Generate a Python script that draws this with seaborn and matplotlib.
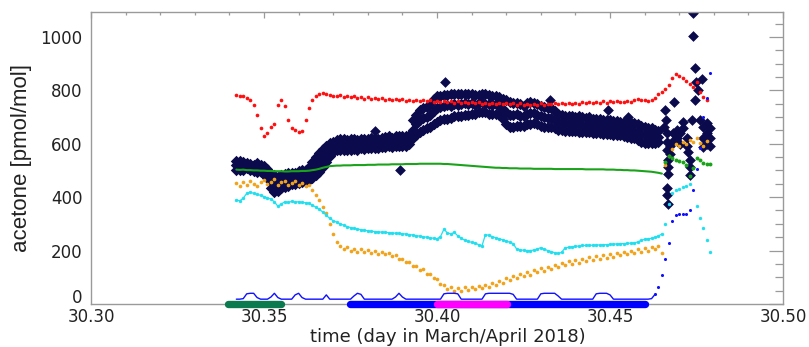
import numpy as np
import pandas as pd
import matplotlib
matplotlib.use("Agg")
import matplotlib.pyplot as plt
import matplotlib.transforms as mtransforms
import seaborn as sns
from matplotlib.ticker import MultipleLocator, FormatStrFormatter

sns.set_theme(style="white")
plt.rcParams["font.family"] = ["DejaVu Sans"]

nan = np.nan

# sampling times in day of the year, one sample every 0.001 d (30.342 ... 30.479)
t = np.round(np.arange(30.342, 30.4795, 0.001), 3)

red_vals = [
    782, 778, 780, 772, 762, 745, 708, 660, 628, 640,
    662, 672, 745, 765, 742, 690, 660, 650, 645, 648,
    690, 735, 762, 778, 785, 788, 786, 782, 780, 778,
    781, 775, 779, 773, 777, 771, 775, 769, 773, 768,
    772, 766, 770, 765, 769, 763, 768, 762, 766, 761,
    765, 760, 764, 759, 763, 758, 762, 757, 761, 756,
    760, 755, 759, 754, 758, 753, 757, 752, 756, 751,
    755, 750, 754, 749, 753, 748, 752, 747, 751, 747,
    752, 746, 751, 746, 750, 745, 750, 746, 751, 746,
    750, 747, 752, 747, 752, 748, 753, 749, 754, 750,
    755, 751, 756, 752, 757, 753, 758, 754, 759, 755,
    760, 755, 757, 758, 756, 762, 767, 765, 763, 760,
    762, 770, 785, 795, 805, 820, 845, 860, 852, 845,
    835, 822, 812, 830, 795, 775, 765, nan,
]

green_vals = [
    503, 502, 503, 501, 501, 500, 500, 499, 499, 498,
    498, 497, 497, 497, 496, 496, 497, 497, 497, 498,
    498, 499, 501, 503, 506, 510, 513, 516, 517, 518,
    518, 519, 519, 519, 520, 520, 520, 520, 521, 521,
    521, 522, 522, 522, 522, 523, 523, 523, 523, 524,
    524, 524, 524, 525, 525, 525, 525, 525, 525, 525,
    524, 524, 523, 522, 521, 520, 519, 518, 517, 516,
    515, 514, 513, 512, 511, 510, 510, 509, 509, 508,
    508, 508, 507, 507, 507, 507, 506, 506, 506, 506,
    506, 506, 505, 505, 505, 505, 505, 505, 505, 505,
    505, 504, 504, 504, 504, 504, 504, 503, 503, 503,
    502, 502, 501, 501, 500, 500, 499, 498, 497, 496,
    495, 493, 491, 488, 530, 555, 545, 540, 535, 530,
    522, 478, 510, 548, 540, 528, 525, 524,
]

cyan_vals = [
    390, 386, 396, 414, 419, 414, 410, 407, 402, 397,
    393, 382, 366, 374, 383, 380, 384, 381, 383, 380,
    379, 377, 370, 362, 354, 344, 332, 320, 312, 306,
    300, 295, 290, 286, 283, 281, 278, 276, 274, 272,
    271, 270, 269, 268, 267, 266, 265, 264, 263, 262,
    260, 258, 256, 254, 252, 250, 248, 246, 244, 252,
    280, 266, 262, 268, 255, 246, 239, 234, 231, 228,
    222, 218, 260, 257, 252, 248, 244, 240, 236, 231,
    226, 206, 203, 201, 200, 200, 202, 206, 211, 205,
    200, 196, 192, 189, 193, 210, 212, 214, 216, 217,
    219, 219, 220, 220, 221, 221, 222, 222, 223, 224,
    225, 226, 226, 227, 228, 229, 232, 238, 242, 244,
    246, 250, 255, 262, 300, 375, 415, 428, 432, 437,
    442, 448, nan, 365, 320, 285, 240, 195,
]

orange_vals = [
    452, 440, 458, 446, 462, 450, 441, 457, 464, 448,
    455, 466, 445, 458, 461, 447, 453, 459, 446, 452,
    440, 444, 426, 408, 388, 362, 342, 300, 262, 232,
    218, 206, 212, 198, 207, 196, 205, 194, 203, 192,
    199, 188, 196, 186, 192, 181, 182, 168, 170, 156,
    158, 141, 142, 127, 130, 112, 114, 96, 94, 74,
    70, 56, 62, 50, 60, 48, 62, 52, 64, 55,
    66, 58, 70, 62, 78, 70, 86, 80, 97, 90,
    106, 98, 112, 104, 118, 110, 126, 118, 134, 125,
    140, 132, 147, 139, 153, 145, 160, 150, 164, 155,
    170, 160, 174, 164, 178, 168, 183, 172, 188, 177,
    192, 182, 196, 186, 200, 190, 205, 196, 210, 200,
    214, 204, 218, 190, 520, 555, 580, 598, 592, 606,
    598, 615, 608, 622, 604, 592, 610, nan,
]

blue_vals = [
    18, 18, 20, 38, 40, 40, 24, 18, 18, 18,
    26, 40, 24, 18, 18, 18, 18, 34, 40, 24,
    18, 18, 18, 18, 18, 18, 34, 18, 18, 18,
    18, 18, 18, 18, 30, 40, 36, 18, 18, 18,
    18, 18, 18, 18, 18, 18, 26, 40, 26, 18,
    18, 18, 18, 18, 18, 18, 18, 18, 18, 18,
    38, 40, 40, 40, 38, 18, 18, 18, 18, 18,
    18, 18, 38, 40, 40, 40, 40, 40, 40, 40,
    36, 18, 18, 18, 18, 18, 18, 18, 38, 40,
    40, 40, 40, 30, 18, 18, 18, 18, 18, 18,
    18, 18, 18, 18, 38, 40, 40, 40, 34, 18,
    18, 18, 18, 18, 18, 18, 18, 18, 18, 18,
    20, 36, 62, 110, 170, 228, 310, 334, 338, 336,
    336, 352, 425, 505, 585, 700, 770, 865,
]

# main acetone record: upper, middle and lower samples per time step (30.342 ... 30.464)
navy_hi = [
    537, 535, 532, 527, 525, 522, 527, 522, 517, 507,
    487, 482, 477, 482, 487, 492, 492, 492, 497, 502,
    502, 512, 532, 552, 567, 582, 592, 602, 607, 612,
    617, 617, 615, 617, 619, 615, 619, 617, 619, 622,
    622, 619, 622, 625, 627, 623, 627, 629, 627, 627,
    632, 687, 707, 727, 732, 737, 747, 767, 777, 779,
    782, 782, 787, 787, 785, 787, 787, 785, 785, 782,
    782, 787, 785, 782, 777, 777, 775, 767, 762, 757,
    752, 752, 747, 742, 752, 757, 752, 747, 742, 737,
    732, 732, 722, 712, 707, 705, 702, 702, 699, 702,
    699, 697, 699, 692, 692, 692, 687, 687, 687, 685,
    685, 682, 682, 682, 677, 677, 672, 667, 662, 657,
    659, 652, 647,
]
navy_mid = [
    520, 516, 522, 515, 512, 508, 514, 505, 500, 490,
    462, 450, 446, 455, 462, 466, 470, 468, 476, 480,
    478, 488, 502, 518, 530, 548, 562, 578, 588, 595,
    598, 596, 600, 597, 601, 596, 602, 598, 603, 600,
    606, 599, 605, 604, 610, 603, 608, 612, 609, 611,
    615, 650, 672, 688, 695, 700, 708, 722, 732, 738,
    740, 745, 742, 748, 746, 750, 752, 748, 751, 746,
    752, 755, 750, 748, 744, 748, 740, 730, 718, 708,
    706, 710, 705, 702, 712, 715, 714, 708, 704, 700,
    696, 698, 690, 682, 678, 676, 675, 674, 672, 674,
    670, 668, 671, 666, 664, 667, 662, 660, 662, 658,
    660, 656, 654, 652, 650, 648, 642, 638, 632, 630,
    632, 628, 625,
]
navy_lo = [
    503, 501, 503, 508, 503, 498, 495, 493, 488, 473,
    433, 420, 423, 433, 438, 443, 448, 448, 453, 458,
    458, 463, 473, 483, 493, 513, 533, 553, 568, 578,
    578, 578, 578, 578, 581, 578, 583, 581, 583, 585,
    585, 583, 588, 588, 591, 588, 591, 593, 593, 593,
    598, 623, 633, 643, 653, 658, 663, 673, 683, 688,
    693, 693, 698, 703, 703, 705, 708, 708, 713, 713,
    718, 718, 718, 713, 713, 713, 708, 693, 673, 663,
    663, 668, 668, 668, 673, 673, 678, 673, 668, 663,
    663, 663, 658, 653, 651, 649, 648, 648, 648, 645,
    643, 643, 643, 641, 641, 641, 638, 638, 635, 633,
    633, 631, 628, 625, 623, 621, 613, 608, 603, 603,
    603, 603, 608,
]

# isolated acetone samples (outliers and the final plume crossing)
navy_pt_t = [
    30.3822, 30.3893, 30.4022, 30.4327, 30.4495, 30.4552,
    30.4659, 30.4662, 30.4656, 30.4664, 30.4664, 30.4664, 30.4668, 30.4668,
    30.4668, 30.4665, 30.4665, 30.4668, 30.4673, 30.4673, 30.4682, 30.4682,
    30.4685, 30.4694, 30.4694, 30.4702, 30.4702, 30.4712, 30.4712, 30.4722,
    30.4722, 30.4726, 30.4731, 30.4731, 30.4731, 30.4736, 30.4739, 30.4739,
    30.4746, 30.4746, 30.4749, 30.4755, 30.4760, 30.4765, 30.4769, 30.4769,
    30.4769, 30.4779, 30.4779, 30.4779, 30.4789, 30.4789, 30.4789,
]
navy_pt_v = [
    648, 501, 830, 763, 728, 700,
    726, 688, 663, 640, 605, 575, 540, 513,
    488, 433, 407, 376, 590, 560, 640, 610,
    757, 650, 620, 600, 640, 682, 660, 620,
    590, 569, 538, 513, 482, 688, 1088, 1004,
    882, 763, 832, 801, 688, 841, 663, 620,
    588, 676, 640, 600, 660, 620, 590,
]

# flight-phase markers along the time axis
phase_start = [30.3397, 30.3749, 30.3999]
phase_end = [30.3550, 30.4601, 30.4201]
phase_color = ["#0b7a4e", "#0000ff", "#ff00ff"]

NAVY = "#0a0a4c"
RED = "#ff1010"
GREEN = "#1aa31a"
CYAN = "#22dff0"
ORANGE = "#f2a31c"
BLUE = "#1010ff"

fig = plt.figure(figsize=(8.09, 3.47), dpi=100)
ax = fig.add_axes([0.1125, 0.124, 0.8554, 0.8406])

n_band = len(navy_hi)
band = pd.DataFrame({
    "t": np.concatenate([t[:n_band]] * 3),
    "v": np.concatenate([navy_hi, navy_mid, navy_lo]),
})
sns.scatterplot(data=band, x="t", y="v", ax=ax, marker="D", s=34,
                color=NAVY, linewidth=0, legend=False, zorder=2)
sns.scatterplot(x=navy_pt_t, y=navy_pt_v, ax=ax, marker="D", s=30,
                color=NAVY, linewidth=0, legend=False, zorder=2)

df = pd.DataFrame({"t": t, "red": red_vals, "green": green_vals, "cyan": cyan_vals,
                   "orange": orange_vals, "blue": blue_vals})

sns.scatterplot(data=df, x="t", y="orange", ax=ax, marker="o", s=7,
                color=ORANGE, linewidth=0, legend=False, zorder=3)
sns.scatterplot(data=df, x="t", y="cyan", ax=ax, marker="o", s=6,
                color=CYAN, linewidth=0, legend=False, zorder=3)
sns.lineplot(data=df[df.t <= 30.4655], x="t", y="cyan", ax=ax, color=CYAN,
             lw=0.9, estimator=None, sort=False, legend=False, zorder=3)

green_line = df[df.t <= 30.4655]
green_dots = df[df.t >= 30.4655]
sns.lineplot(data=green_line, x="t", y="green", ax=ax, color=GREEN, lw=1.5,
             estimator=None, sort=False, legend=False, zorder=4)
sns.scatterplot(data=green_dots, x="t", y="green", ax=ax, marker="o", s=8,
                color=GREEN, linewidth=0, legend=False, zorder=4)

sns.scatterplot(data=df, x="t", y="red", ax=ax, marker="o", s=7,
                color=RED, linewidth=0, legend=False, zorder=4)

blue_line = df[df.t <= 30.4635]
blue_dots = df[df.t >= 30.4625]
sns.lineplot(data=blue_line, x="t", y="blue", ax=ax, color=BLUE, lw=1.0,
             estimator=None, sort=False, legend=False, zorder=4)
sns.scatterplot(data=blue_dots, x="t", y="blue", ax=ax, marker="o", s=5,
                color=BLUE, linewidth=0, legend=False, zorder=4)

for t0, t1, c in zip(phase_start, phase_end, phase_color):
    sns.lineplot(x=[t0, t1], y=[0, 0], ax=ax, color=c, lw=5.3,
                 solid_capstyle="round", estimator=None, legend=False,
                 zorder=5, clip_on=False)

ax.set_xlim(30.30, 30.50)
ax.set_ylim(0, 1092)
ax.xaxis.set_major_locator(MultipleLocator(0.05))
ax.xaxis.set_minor_locator(MultipleLocator(0.01))
ax.xaxis.set_major_formatter(FormatStrFormatter("%.2f"))
ax.yaxis.set_major_locator(MultipleLocator(200))
ax.yaxis.set_minor_locator(MultipleLocator(50))
ax.yaxis.set_major_formatter(FormatStrFormatter("%d"))

AX_GREY = "#9a9a9a"
for s in ax.spines.values():
    s.set_color(AX_GREY)
    s.set_linewidth(1.0)
ax.tick_params(which="both", direction="in", top=True, right=True,
               color=AX_GREY, labelcolor="#222222", labelsize=12, width=0.9)
ax.tick_params(axis="y", which="major", length=10, pad=6)
ax.tick_params(axis="y", which="minor", length=5.5)
ax.tick_params(axis="x", which="major", length=4.3, pad=3)
ax.tick_params(axis="x", which="minor", length=2.3)

ax.set_xlabel("time (day in March/April 2018)", fontsize=13, color="#222222")
ax.set_ylabel("acetone [pmol/mol]", fontsize=16, color="#222222",
              family=["Liberation Sans", "DejaVu Sans"])
ax.xaxis.set_label_coords(0.516, -0.083)
ax.yaxis.set_label_coords(-0.085, 0.5)

# lift the "0" label a little so it clears the first time label
fig.canvas.draw()
lift = mtransforms.ScaledTranslation(0, 5.5 / 72, fig.dpi_scale_trans)
for tick in ax.yaxis.get_major_ticks():
    if abs(tick.get_loc()) < 1e-9:
        tick.label1.set_transform(tick.label1.get_transform() + lift)

fig.savefig("out.png", dpi=100)
